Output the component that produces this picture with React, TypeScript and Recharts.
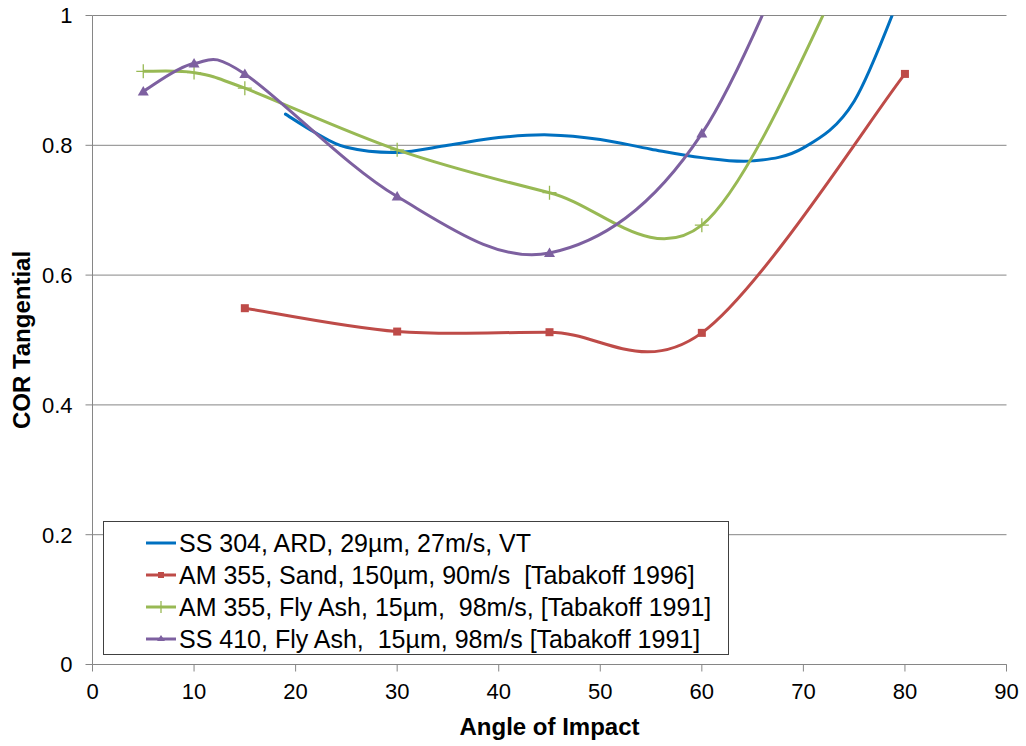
import { LineChart, Line, XAxis, YAxis, CartesianGrid, Label } from 'recharts';

const FONT = '"Liberation Sans", Arial, sans-serif';

const angleTicks = [0, 10, 20, 30, 40, 50, 60, 70, 80, 90];
const corTicks = [0, 0.2, 0.4, 0.6, 0.8, 1];

// SS 304, ARD (curve only, no markers)
const ss304Angle = [19, 22, 25, 30, 35, 40, 45, 50, 55, 60, 65, 70, 75, 80];
const ss304Cor = [0.848, 0.819, 0.797, 0.789, 0.8, 0.812, 0.816, 0.809, 0.794, 0.781, 0.776, 0.796, 0.868, 1.05];

// AM 355, Sand [Tabakoff 1996]
const am355SandAngle = [15, 30, 45, 60, 80];
const am355SandCor = [0.549, 0.513, 0.512, 0.511, 0.91];

// AM 355, Fly Ash [Tabakoff 1991]
const am355AshAngle = [5, 10, 15, 30, 45, 60, 75];
const am355AshCor = [0.914, 0.912, 0.888, 0.793, 0.727, 0.677, 1.1];

// SS 410, Fly Ash [Tabakoff 1991]
const ss410AshAngle = [5, 10, 15, 30, 45, 60, 75];
const ss410AshCor = [0.883, 0.926, 0.91, 0.721, 0.634, 0.818, 1.34];

const seriesNames = [
  'SS 304, ARD, 29µm, 27m/s, VT',
  'AM 355, Sand, 150µm, 90m/s  [Tabakoff 1996]',
  'AM 355, Fly Ash, 15µm,  98m/s, [Tabakoff 1991]',
  'SS 410, Fly Ash,  15µm, 98m/s [Tabakoff 1991]',
];

const BLUE = '#0070C0';
const RED = '#BE4B48';
const GREEN = '#98B954';
const PURPLE = '#7D60A0';
const GRID = '#868686';

const zip = (xs: number[], ys: number[]) => xs.map((angle, i) => ({ angle, cor: ys[i] }));

const ss304 = zip(ss304Angle, ss304Cor);
const am355Sand = zip(am355SandAngle, am355SandCor);
const am355Ash = zip(am355AshAngle, am355AshCor);
const ss410Ash = zip(ss410AshAngle, ss410AshCor);

// spreadsheet-style smoothed line: cubic bezier, control points at p +/- (next - prev) / 6
const smoothCurve = (context: any) => {
  let xs: number[] = [];
  let ys: number[] = [];
  return {
    areaStart() {},
    areaEnd() {},
    lineStart() {
      xs = [];
      ys = [];
    },
    point(x: number, y: number) {
      xs.push(+x);
      ys.push(+y);
    },
    lineEnd() {
      const n = xs.length;
      if (!n) return;
      context.moveTo(xs[0], ys[0]);
      for (let i = 0; i < n - 1; i++) {
        const a = Math.max(i - 1, 0);
        const d = Math.min(i + 2, n - 1);
        const c1x = xs[i] + (xs[i + 1] - xs[a]) / 6;
        const c1y = ys[i] + (ys[i + 1] - ys[a]) / 6;
        const c2x = xs[i + 1] - (xs[d] - xs[i]) / 6;
        const c2y = ys[i + 1] - (ys[d] - ys[i]) / 6;
        context.bezierCurveTo(c1x, c1y, c2x, c2y, xs[i + 1], ys[i + 1]);
      }
    },
  };
};

const hidden = (p: any) => p.cx == null || p.cy == null || p.payload?.cor > 1;

const SquareDot = (p: any) => {
  if (hidden(p)) return <g key={`sq-${p.index}`} />;
  return <rect key={`sq-${p.index}`} x={p.cx - 4} y={p.cy - 4} width={8} height={8} fill={RED} />;
};

const PlusDot = (p: any) => {
  if (hidden(p)) return <g key={`pl-${p.index}`} />;
  return (
    <g key={`pl-${p.index}`} stroke={GREEN} strokeWidth={1.3}>
      <line x1={p.cx - 7} y1={p.cy} x2={p.cx + 7} y2={p.cy} />
      <line x1={p.cx} y1={p.cy - 7} x2={p.cx} y2={p.cy + 7} />
    </g>
  );
};

const TriangleDot = (p: any) => {
  if (hidden(p)) return <g key={`tr-${p.index}`} />;
  const { cx, cy } = p;
  return (
    <polygon
      key={`tr-${p.index}`}
      points={`${cx},${cy - 5.5} ${cx + 5.5},${cy + 4} ${cx - 5.5},${cy + 4}`}
      fill={PURPLE}
    />
  );
};

const legendIcons = [
  (
    <svg width={32} height={12}>
      <line x1={1} y1={6} x2={31} y2={6} stroke={BLUE} strokeWidth={3} />
    </svg>
  ),
  (
    <svg width={32} height={12}>
      <line x1={1} y1={6} x2={31} y2={6} stroke={RED} strokeWidth={3} />
      <rect x={13} y={3} width={6} height={6} fill={RED} />
    </svg>
  ),
  (
    <svg width={32} height={16}>
      <line x1={1} y1={8} x2={31} y2={8} stroke={GREEN} strokeWidth={3} />
      <line x1={16} y1={2} x2={16} y2={14} stroke={GREEN} strokeWidth={1.3} />
    </svg>
  ),
  (
    <svg width={32} height={12}>
      <line x1={1} y1={6} x2={31} y2={6} stroke={PURPLE} strokeWidth={3} />
      <polygon points="16,2 20,8 12,8" fill={PURPLE} />
    </svg>
  ),
];

const LegendBox = () => (
  <div
    style={{
      position: 'absolute',
      left: 103,
      top: 521,
      width: 626,
      height: 134,
      boxSizing: 'border-box',
      border: '1px solid #404040',
      background: '#fff',
      paddingTop: 5,
      paddingLeft: 41,
      fontFamily: FONT,
      fontSize: 25,
      color: '#000',
    }}
  >
    {seriesNames.map((name, i) => (
      <div key={name} style={{ display: 'flex', alignItems: 'center', height: 32 }}>
        {legendIcons[i]}
        <span style={{ marginLeft: 2, whiteSpace: 'pre' }}>{name}</span>
      </div>
    ))}
  </div>
);

const tickStyle = { fill: '#000', fontSize: 22, fontFamily: FONT };

export default function App() {
  return (
    <div style={{ position: 'absolute', left: 0, top: 0, width: 1026, height: 746, background: '#fff' }}>
      <LineChart width={1026} height={746} margin={{ top: 15.5, right: 19.5, bottom: 51.5, left: 32.5 }}>
        <CartesianGrid vertical={false} stroke={GRID} />
        <XAxis
          type="number"
          dataKey="angle"
          domain={[0, 90]}
          ticks={angleTicks}
          allowDataOverflow
          stroke={GRID}
          tick={tickStyle}
          tickSize={7}
          tickMargin={12}
          height={30}
        >
          <Label
            value="Angle of Impact"
            position="bottom"
            offset={23}
            style={{ fontSize: 24, fontWeight: 'bold', fill: '#000', fontFamily: FONT }}
          />
        </XAxis>
        <YAxis
          type="number"
          domain={[0, 1]}
          ticks={corTicks}
          allowDataOverflow
          stroke={GRID}
          tick={tickStyle}
          tickSize={7}
          tickMargin={13}
          width={60}
        >
          <Label
            content={(props: any) => {
              const vb = props.viewBox;
              const x = 30;
              const y = vb.y + vb.height / 2;
              return (
                <text
                  x={x}
                  y={y}
                  transform={`rotate(-90 ${x} ${y})`}
                  textAnchor="middle"
                  fontSize={24}
                  fontWeight="bold"
                  fontFamily={FONT}
                  fill="#000"
                >
                  COR Tangential
                </text>
              );
            }}
          />
        </YAxis>
        <Line
          data={ss304}
          dataKey="cor"
          type={smoothCurve as any}
          stroke={BLUE}
          strokeWidth={3}
          strokeLinecap="round"
          dot={false}
          activeDot={false}
          isAnimationActive={false}
        />
        <Line
          data={am355Sand}
          dataKey="cor"
          type={smoothCurve as any}
          stroke={RED}
          strokeWidth={3}
          dot={SquareDot}
          activeDot={false}
          isAnimationActive={false}
        />
        <Line
          data={am355Ash}
          dataKey="cor"
          type={smoothCurve as any}
          stroke={GREEN}
          strokeWidth={3}
          dot={PlusDot}
          activeDot={false}
          isAnimationActive={false}
        />
        <Line
          data={ss410Ash}
          dataKey="cor"
          type={smoothCurve as any}
          stroke={PURPLE}
          strokeWidth={3}
          dot={TriangleDot}
          activeDot={false}
          isAnimationActive={false}
        />
      </LineChart>
      <LegendBox />
    </div>
  );
}
